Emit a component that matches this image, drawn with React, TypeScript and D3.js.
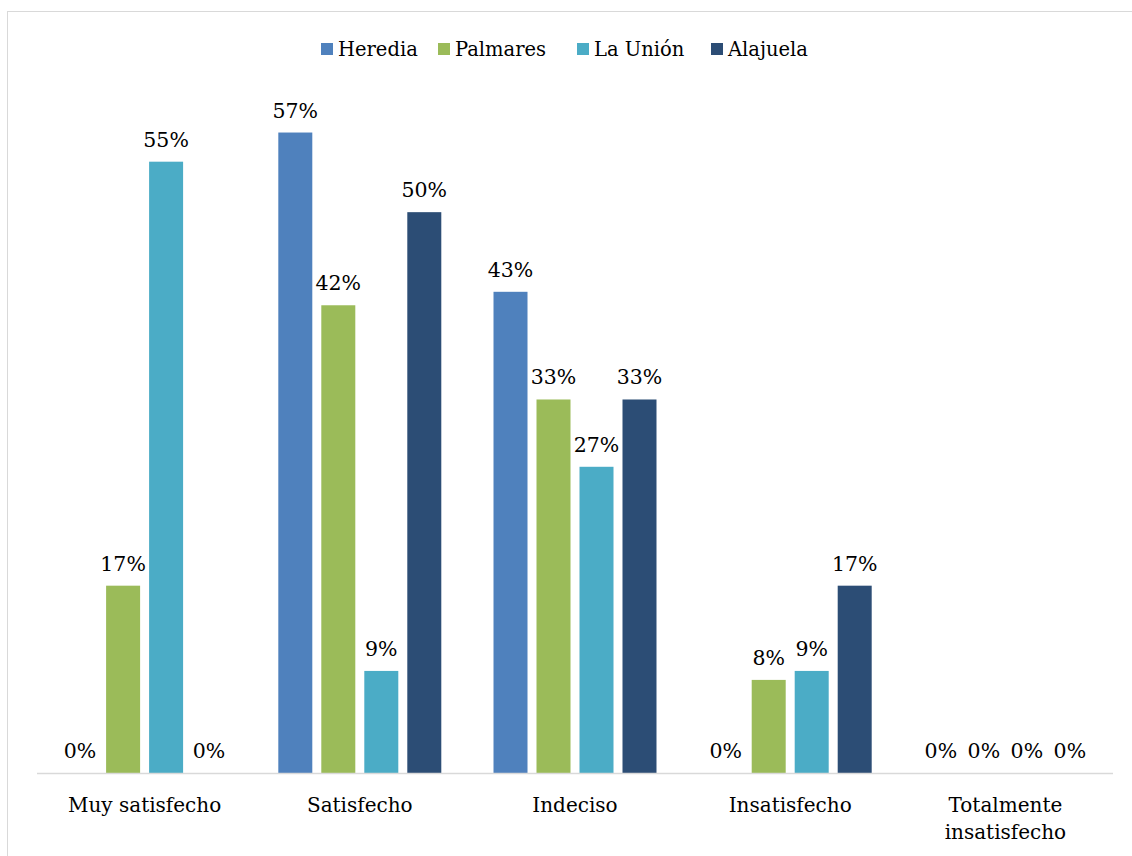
import React from "react";
import * as d3 from "d3";

const categories = ["Muy satisfecho", "Satisfecho", "Indeciso", "Insatisfecho", "Totalmente insatisfecho"];
const seriesNames = ["Heredia", "Palmares", "La Unión", "Alajuela"];
const heredia = [0, 0.571, 0.429, 0, 0];
const palmares = [0.167, 0.417, 0.333, 0.083, 0];
const laUnion = [0.545, 0.091, 0.273, 0.091, 0];
const alajuela = [0, 0.5, 0.333, 0.167, 0];
const colors = ["#4F81BD", "#9BBB59", "#4BACC6", "#2C4D75"];
const legendX = [321, 438, 577, 711];

const W = 1132, H = 856;
const FONT = "'DejaVu Serif', serif";

export default function App() {
  const values = [heredia, palmares, laUnion, alajuela];
  const x0 = d3.scaleBand<string>().domain(categories).range([37, 1113]).paddingInner(0.2426).paddingOuter(0.1213);
  const x1 = d3.scaleBand<string>().domain(seriesNames).range([0, x0.bandwidth()]).paddingInner(0.2093).paddingOuter(0);
  const y = d3.scaleLinear().domain([0, 0.6]).range([773, 100]);
  const fmt = d3.format(".0%");
  const wrap = (s: string) => (s === "Totalmente insatisfecho" ? ["Totalmente", "insatisfecho"] : [s]);

  return (
    <svg width={W} height={H} style={{ position: "absolute", left: 0, top: 0, background: "#fff" }} fontFamily={FONT}>
      <rect x={7.5} y={11.5} width={W + 10} height={H + 10} fill="#fff" stroke="#D9D9D9" strokeWidth={1} />
      {/* legend */}
      {seriesNames.map((s, i) => (
        <g key={s}>
          <rect x={legendX[i]} y={43} width={12} height={12} fill={colors[i]} />
          <text x={legendX[i] + 17} y={56} fontSize={19.5} fill="#000">{s}</text>
        </g>
      ))}
      {/* bars */}
      {categories.map((c, ci) => (
        <g key={c} transform={`translate(${x0(c)},0)`}>
          {seriesNames.map((s, si) => {
            const v = values[si][ci];
            const bx = x1(s)!;
            return (
              <g key={s}>
                {v > 0 && (
                  <rect x={bx} y={y(v)} width={x1.bandwidth()} height={y(0) - y(v)} fill={colors[si]} />
                )}
                <text x={bx + x1.bandwidth() / 2} y={y(v) - 15} fontSize={20.5} textAnchor="middle" fill="#000">
                  {fmt(v)}
                </text>
              </g>
            );
          })}
        </g>
      ))}
      {/* axis */}
      <line x1={37} x2={1113} y1={773.5} y2={773.5} stroke="#D9D9D9" strokeWidth={1.5} />
      {categories.map((c) => (
        <text key={c} x={x0(c)! + x0.bandwidth() / 2} y={812} fontSize={20} textAnchor="middle" fill="#000">
          {wrap(c).map((line, li) => (
            <tspan key={li} x={x0(c)! + x0.bandwidth() / 2} dy={li === 0 ? 0 : 27}>{line}</tspan>
          ))}
        </text>
      ))}
    </svg>
  );
}
